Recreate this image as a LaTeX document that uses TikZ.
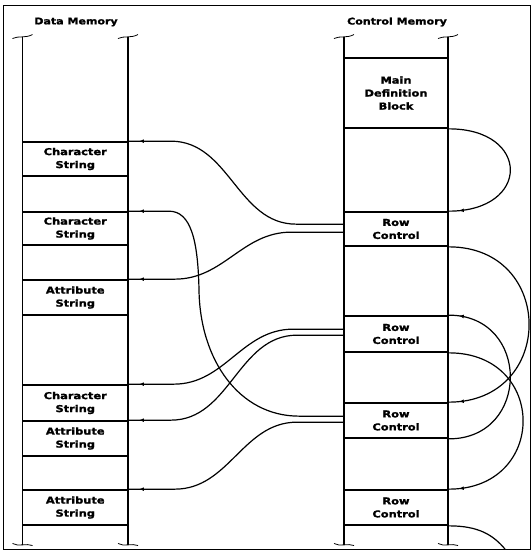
\documentclass[tikz,border=0pt]{standalone}
\usepackage{fontspec}
\newfontfamily\lblfont{DejaVu Sans Bold}[FakeStretch=1.2,FakeBold=1.6]
\usetikzlibrary{calc,decorations.markings,arrows.meta}

\begin{document}
\begin{tikzpicture}[x=1pt,y=-1pt,
  box/.style={draw, line width=1.7pt, inner sep=0pt, align=center,
    font=\lblfont\fontsize{9.5}{13}\selectfont},
  dbox/.style={box, minimum width=105.5pt},
  cbox/.style={box, minimum width=104pt},
  title/.style={font=\lblfont\fontsize{9.2}{11}\selectfont, inner sep=0pt},
  column/.style={line width=1.8pt},
  squiggle/.style={line width=0.8pt},
  link/.style={line width=1.2pt},
  ptr/.style={link, postaction={decorate},
    decoration={markings, mark=at position -10pt with {\arrow{Latex[length=5pt,width=3.8pt]}}}}
]
\useasboundingbox (0,0) rectangle (532,550);
\fill[white] (0,0) rectangle (532,550);

% outer frame
\draw[line width=0.8pt] (3,5) rectangle (530,549);

% titles
\node[title] (dtitle) at (76,22) {Data Memory};
\node[title] (ctitle) at (397,22) {Control Memory};

% memory columns with break marks at both ends
\foreach \cx in {22.5,128,344,448} {
  \draw[column] (\cx,37) -- (\cx,545);
  \draw[squiggle] (\cx-10,38.5) .. controls (\cx-4,35.5) and (\cx+3,38.5) .. (\cx+10,34.5);
  \draw[squiggle] (\cx-10,543.5) .. controls (\cx-4,547) and (\cx+4,543) .. (\cx+10,545.5);
}

% data memory blocks
\node[dbox, minimum height=34pt] (cs1) at (75.25,159)   {Character\\String};
\node[dbox, minimum height=33pt] (cs2) at (75.25,228.5) {Character\\String};
\node[dbox, minimum height=35pt] (as1) at (75.25,297.5) {Attribute\\String};
\node[dbox, minimum height=36pt] (cs3) at (75.25,403)   {Character\\String};
\node[dbox, minimum height=35pt] (as2) at (75.25,438.5) {Attribute\\String};
\node[dbox, minimum height=35pt] (as3) at (75.25,507.5) {Attribute\\String};

% control memory blocks
\node[cbox, minimum height=70pt] (mdb) at (396,93)    {Main\\Definition\\Block};
\node[cbox, minimum height=34pt] (rc1) at (396,229)   {Row\\Control};
\node[cbox, minimum height=36pt] (rc2) at (396,334)   {Row\\Control};
\node[cbox, minimum height=35pt] (rc3) at (396,420.5) {Row\\Control};
\node[cbox, minimum height=35pt] (rc4) at (396,507.5) {Row\\Control};

% row control pointers into data memory
\draw[ptr] ($(rc1.north west)+(0,13)$) -- ++(-47,0)
  to[out=180,in=0] ($(cs1.north east)+(42,0)$) -- (cs1.north east);
\draw[ptr] ($(rc1.north west)+(0,21)$) -- ++(-52,0)
  to[out=180,in=0] ($(as1.north east)+(46,0)$) -- (as1.north east);
\draw[ptr] ($(rc2.north west)+(0,14)$) -- ++(-50,0)
  to[out=180,in=0] ($(cs3.north east)+(45,0)$) -- (cs3.north east);
\draw[ptr] ($(rc2.north west)+(0,20)$) -- ++(-46,0)
  to[out=180,in=0] ($(as2.north east)+(42,0)$) -- (as2.north east);
\draw[ptr] ($(rc3.north west)+(0,20)$) -- ++(-46,0)
  to[out=180,in=0] ($(as3.north east)+(46,0)$) -- (as3.north east);
\draw[ptr] ($(rc3.north west)+(0,14)$) -- ++(-44,0)
  .. controls +(-60,0) and +(1,70) .. (199,290)
  .. controls +(-1,-50) and +(22,0) .. ($(cs2.north east)+(40,0)$) -- (cs2.north east);

% chain of control blocks
\draw[ptr] (mdb.south east) .. controls +(82,0) and +(82,0) .. (rc1.north east);
\draw[ptr] (rc1.south east) .. controls +(107,0) and +(107,0) .. (rc3.north east);
\draw[ptr] (rc3.south east) .. controls +(82,0) and +(82,0) .. (rc2.north east);
\draw[ptr] (rc2.south east) .. controls +(99,0) and +(99,0) .. (rc4.north east);
\coordinate (next) at (505,549);
\draw[link] (rc4.south east) .. controls +(30,0) and +(-12,-14) .. (next);
\end{tikzpicture}
\end{document}
